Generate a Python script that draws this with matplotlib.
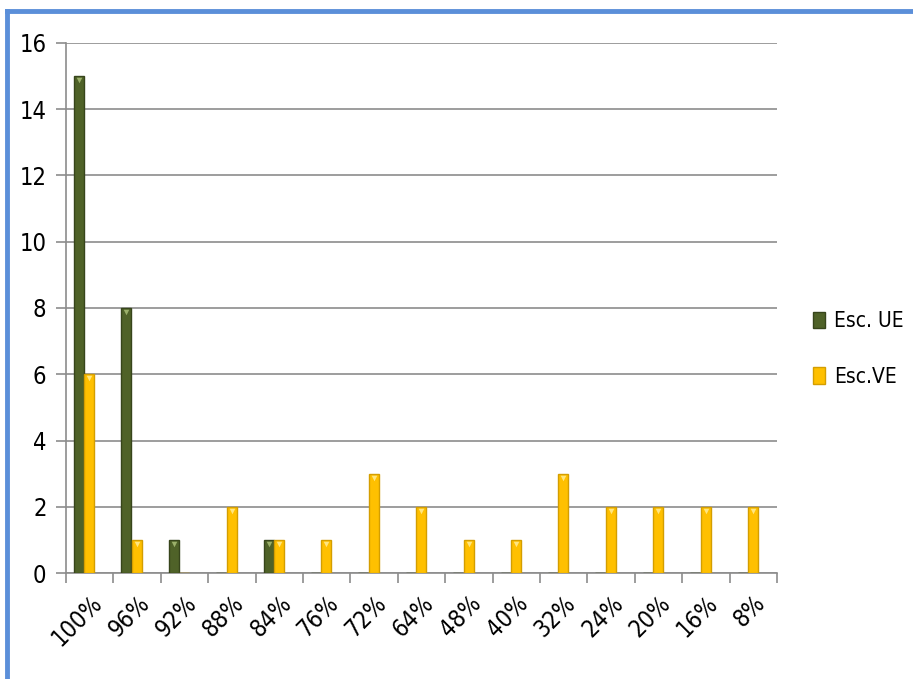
import matplotlib
matplotlib.use("Agg")
import matplotlib.pyplot as plt
from matplotlib import font_manager
from matplotlib.lines import Line2D
import numpy as np

# data
categories = ["100%", "96%", "92%", "88%", "84%", "76%", "72%", "64%",
              "48%", "40%", "32%", "24%", "20%", "16%", "8%"]
esc_ue = [15, 8, 1, 0, 1, 0, 0, 0, 0, 0, 0, 0, 0, 0, 0]
esc_ve = [6, 1, 0, 2, 1, 1, 3, 2, 1, 1, 3, 2, 2, 2, 2]
y_ticks = [0, 2, 4, 6, 8, 10, 12, 14, 16]

# narrow font close to Calibri, if there is one
fonts = font_manager.fontManager.ttflist
names = {f.name for f in fonts}
font = None
if "Liberation Sans Narrow" in names:
    font = font_manager.FontProperties(family="Liberation Sans Narrow")
else:
    cond = [f.fname for f in fonts if "DejaVuSansCondensed.ttf" in f.fname]
    if cond:
        font = font_manager.FontProperties(fname=cond[0])
    else:
        font = font_manager.FontProperties(family="DejaVu Sans", stretch="condensed")

green, green_edge, green_tip = "#4F6228", "#37451B", "#9BB06A"
yellow, yellow_edge, yellow_tip = "#FFC000", "#D49E00", "#FFE680"
grid_col = "#8C8C8C"

fig = plt.figure(figsize=(9.13, 6.79), dpi=100)
ax = fig.add_axes([0.0723, 0.1561, 0.7787, 0.7806])

x = np.arange(len(categories))
w = 0.21
x_ue = x - 0.225
x_ve = x - 0.005

ax.bar(x_ue, esc_ue, width=w, color=green, edgecolor=green_edge, linewidth=1.0,
       zorder=3, label="Esc. UE")
ax.bar(x_ve, esc_ve, width=w, color=yellow, edgecolor=yellow_edge, linewidth=1.0,
       zorder=3, label="Esc.VE")

# little bevel triangles on top of each bar
ue = np.array(esc_ue)
ve = np.array(esc_ve)
ax.scatter(x_ue[ue > 0], ue[ue > 0] - 0.12, marker="v", s=16, color=green_tip,
           zorder=4, linewidths=0)
ax.scatter(x_ve[ve > 0], ve[ve > 0] - 0.12, marker="v", s=16, color=yellow_tip,
           zorder=4, linewidths=0)

ax.set_xlim(-0.5, len(categories) - 0.5)
ax.set_ylim(0, 16)
ax.set_yticks(y_ticks)
ax.set_yticklabels([str(v) for v in y_ticks])
ax.yaxis.grid(True, color=grid_col, linewidth=1.2, zorder=0)
ax.set_axisbelow(True)

ax.set_xticks(x)
ax.set_xticklabels(categories, rotation=45, ha="right", va="top",
                   rotation_mode="anchor")
ax.tick_params(axis="x", length=0, pad=13)
ax.set_xticks(np.arange(len(categories) + 1) - 0.5, minor=True)
ax.tick_params(axis="x", which="minor", length=7, color=grid_col, width=1.2)
ax.tick_params(axis="y", length=7, color=grid_col, width=1.2, pad=7)

for lab in ax.get_xticklabels() + ax.get_yticklabels():
    lab.set_fontproperties(font)
    lab.set_fontsize(17)

for s in ["top", "right"]:
    ax.spines[s].set_visible(False)
for s in ["left", "bottom"]:
    ax.spines[s].set_color(grid_col)
    ax.spines[s].set_linewidth(1.2)

leg_font = font.copy()
leg_font.set_size(15)
leg = fig.legend(loc="upper left", bbox_to_anchor=(0.870, 0.569), frameon=False,
                 prop=leg_font, handlelength=0.55, handleheight=0.85,
                 handletextpad=0.45, labelspacing=1.7)

# blue frame around the chart (top and left edges visible)
border = "#5B8FD9"
fig.add_artist(Line2D([0.008, 1.0], [0.984, 0.984], transform=fig.transFigure,
                      color=border, linewidth=3.5))
fig.add_artist(Line2D([0.008, 0.008], [0.0, 0.984], transform=fig.transFigure,
                      color=border, linewidth=3.5))

fig.savefig("out.png", dpi=100)
